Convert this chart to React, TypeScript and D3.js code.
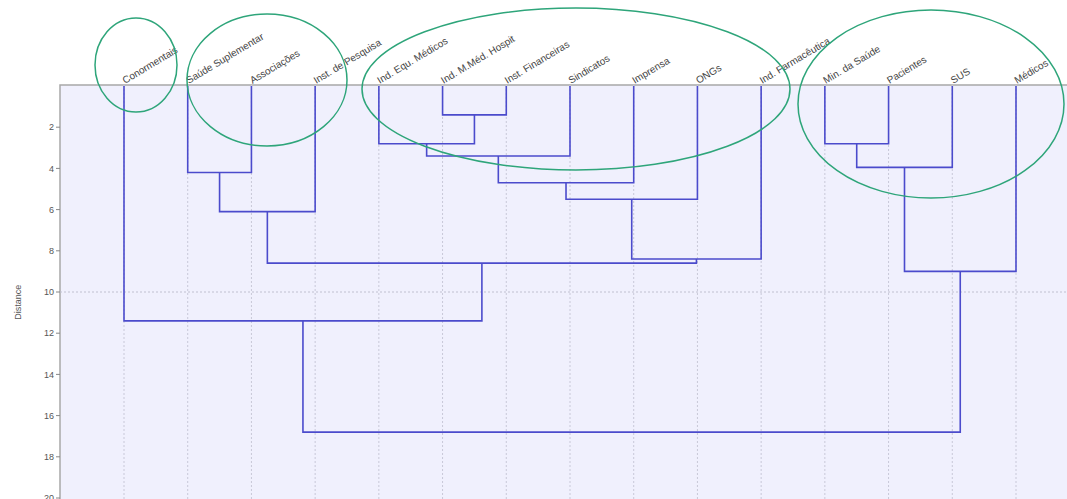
import React from "react";
import * as d3 from "d3";

const width = 1067;
const height = 499;

// leaf labels, in display order
const leaves = [
  "Conormentais",
  "Saúde Suplementar",
  "Associações",
  "Inst. de Pesquisa",
  "Ind. Equ. Médicos",
  "Ind. M.Méd. Hospit",
  "Inst. Financeiras",
  "Sindicatos",
  "Imprensa",
  "ONGs",
  "Ind. Farmacêutica",
  "Min. da Saúde",
  "Pacientes",
  "SUS",
  "Médicos",
];

// linkage: [left, right, distance]; index >= leaves.length refers to an earlier merge
const merges: [number, number, number][] = [
  [5, 6, 1.4],
  [4, 15, 2.8],
  [11, 12, 2.8],
  [16, 7, 3.4],
  [17, 13, 3.95],
  [1, 2, 4.2],
  [18, 8, 4.7],
  [21, 9, 5.5],
  [20, 3, 6.1],
  [22, 10, 8.4],
  [23, 24, 8.6],
  [19, 14, 9.0],
  [0, 25, 11.4],
  [27, 26, 16.8],
];

const yTicks = [2, 4, 6, 8, 10, 12, 14, 16, 18, 20];

// hand-drawn group annotations: [cx, cy, rx, ry]
const groups: [number, number, number, number][] = [
  [136, 65, 41, 47],
  [267, 80, 80, 66],
  [576, 89, 214, 81],
  [931, 104, 133, 94],
];

const plotLeft = 60;
const plotTop = 85;

const x = d3.scalePoint<string>().domain(leaves).range([124, 1016]);
const y = d3.scaleLinear().domain([0, 20]).range([86, 498]);

const lineColor = "#4b4bcc";

const App = () => {
  const pos: { x: number; h: number }[] = leaves.map((l) => ({ x: x(l) as number, h: 0 }));
  const segs: string[] = [];
  merges.forEach(([a, b, h]) => {
    const A = pos[a];
    const B = pos[b];
    segs.push(`M${A.x},${y(A.h)}V${y(h)}H${B.x}V${y(B.h)}`);
    pos.push({ x: (A.x + B.x) / 2, h });
  });

  return (
    <svg
      width={width}
      height={height}
      style={{ position: "absolute", left: 0, top: 0, fontFamily: "Liberation Sans, Arial, sans-serif" }}
    >
      <rect x={0} y={0} width={width} height={height} fill="#fff" />
      <rect
        x={plotLeft}
        y={plotTop}
        width={width - plotLeft + 5}
        height={height - plotTop + 5}
        fill="#f0f0fd"
        stroke="#a8a8a8"
        strokeWidth={1.5}
      />
      {/* vertical grid */}
      {leaves.map((l) => (
        <line
          key={l}
          x1={x(l)}
          x2={x(l)}
          y1={plotTop}
          y2={height}
          stroke="#c8c8d8"
          strokeWidth={1}
          strokeDasharray="2,2"
        />
      ))}
      <line
        x1={plotLeft}
        x2={width}
        y1={y(10)}
        y2={y(10)}
        stroke="#c0c0d0"
        strokeWidth={1}
        strokeDasharray="2,2"
      />
      {/* y axis */}
      {yTicks.map((t) => (
        <g key={t} transform={`translate(${plotLeft},${y(t)})`}>
          <line x1={-4} x2={0} stroke="#888" />
          <text x={-6} dy="0.35em" textAnchor="end" fontSize={9} fill="#555">
            {t}
          </text>
        </g>
      ))}
      <text
        transform={`translate(21,${y(10.5)}) rotate(-90)`}
        textAnchor="middle"
        fontSize={9}
        fill="#555"
      >
        Distance
      </text>
      {/* dendrogram */}
      {segs.map((d, i) => (
        <path key={i} d={d} fill="none" stroke={lineColor} strokeWidth={1.6} />
      ))}
      {/* leaf labels */}
      {leaves.map((l) => (
        <text
          key={l}
          transform={`translate(${(x(l) as number) + 1},${plotTop - 1}) rotate(-31)`}
          fontSize={10}
          fill="#444"
        >
          {l}
        </text>
      ))}
      {/* annotations */}
      {groups.map(([cx, cy, rx, ry], i) => (
        <ellipse
          key={i}
          cx={cx}
          cy={cy}
          rx={rx}
          ry={ry}
          fill="none"
          stroke="#2ea57a"
          strokeWidth={1.5}
        />
      ))}
    </svg>
  );
};

export default App;
